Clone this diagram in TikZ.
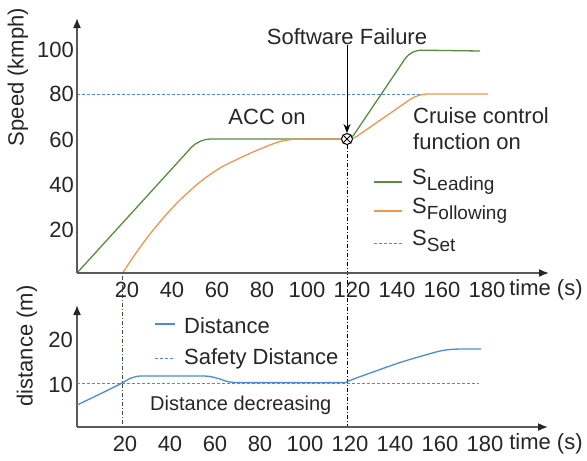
\documentclass[tikz,border=0pt]{standalone}
\usepackage{fontspec}
\setmainfont{Liberation Sans}
\usetikzlibrary{arrows.meta}
\definecolor{cgreen}{RGB}{88,140,62}
\definecolor{corange}{RGB}{236,150,80}
\definecolor{cblue}{RGB}{74,140,218}
\definecolor{caxis}{RGB}{90,90,90}
\definecolor{cmark}{RGB}{60,80,60}
\newcommand\mysub[1]{\raisebox{-6pt}{\fontsize{19}{21}\selectfont #1}}
\begin{document}
\begin{tikzpicture}[x=1pt,y=-1pt,font=\fontsize{22}{26}\selectfont,
  axis/.style={caxis,line width=1.6pt,-{Latex[length=10pt,width=8pt,color=black!85]}},
  lead/.style={cgreen,line width=1.3pt},
  foll/.style={corange,line width=1.3pt},
  dist/.style={cblue,line width=1.3pt},
  setline/.style={cblue,line width=1pt,dash pattern=on 3pt off 2pt},
  vmark/.style={line width=1pt,dash pattern=on 4pt off 2pt on 1pt off 2pt},
  lbl/.style={inner sep=0pt,text=black!85},
  tick/.style={lbl,anchor=center}]
\useasboundingbox (0,0) rectangle (587,461);
% ---------- coordinates ----------
\coordinate (O1) at (77,273);
\coordinate (Y1) at (77,18);
\coordinate (X1) at (549,273);
\coordinate (O2) at (77,427);
\coordinate (Y2) at (77,305);
\coordinate (X2) at (548,427);
\coordinate (B20) at (122,427);
\coordinate (T20) at (122,276);
\coordinate (B120) at (347,427);

% set speed
\draw[setline] (77,94) -- (420,94);
% leading
\draw[lead] (77,273) [rounded corners=11pt] -- (199,139) [rounded corners=5pt] -- (351,139) [rounded corners=10pt] -- (411,50) -- (480,51);
% following
\draw[foll] plot[smooth,tension=0.5] coordinates {(122,274) (136,253) (150,234) (165,216) (180,200) (200,182) (220,168) (240,158) (260,149) (280,141.5) (295,139.2) (310,139) (345,139)};
\draw[foll] (344,139) [rounded corners=5pt] -- (353,139) [rounded corners=9pt] -- (418,94) -- (488,94);

% vertical markers
\draw[vmark,cmark] (T20) -- (B20);
\node[draw,circle,minimum size=11pt,inner sep=0pt,line width=1pt,fill=white] (fail) at (347,139) {};
\draw[line width=0.8pt] (fail.north east) -- (fail.south west) (fail.north west) -- (fail.south east);
\draw[vmark,black] (fail.south) -- (B120);

% axes
\draw[axis] (O1) -- (Y1);
\draw[axis] (O1) -- (X1);
\draw[axis] (O2) -- (Y2);
\draw[axis] (O2) -- (X2);

% y tick labels top
\node[lbl,anchor=east] (ty100) at (74,50) {100};
\node[lbl,anchor=east] (ty80) at (74,94) {80};
\node[lbl,anchor=east] (ty60) at (74,140) {60};
\node[lbl,anchor=east] (ty40) at (74,185) {40};
\node[lbl,anchor=east] (ty20) at (74,230) {20};
\node[lbl,rotate=90] (ylab1) at (18,77) {Speed (kmph)};

% x tick labels top
\foreach \t/\n in {20/a,40/b,60/c,80/d,100/e,120/f,140/g,160/h,180/i}
  \node[tick] (tx\n) at ({77+2.25*\t+5},290) {\t};
\node[tick] (time1) at (546,290) {time (s)};

% annotations
\node[tick] (sw) at (347,37) {Software Failure};
\draw[-{Stealth[length=9pt,width=7pt]},line width=1pt] (sw.south) -- (fail.north);
\node[tick] (acc) at (267,117) {ACC on};
\node[lbl,anchor=north west,align=left] (cruise) at (413,107) {Cruise control\\function on};

% legend top
\draw[lead] (374,182) -- (402,182);
\node[lbl,anchor=west] (lgl) at (412,182) {S\mysub{Leading}};
\draw[foll] (374,211) -- (402,211);
\node[lbl,anchor=west] (lgf) at (412,211) {S\mysub{Following}};
\draw[setline] (374,243) -- (402,243);
\node[lbl,anchor=west] (lgs) at (412,241) {S\mysub{Set}};

% ---------- bottom chart ----------
\draw[setline] (77,383) -- (479,383);
\draw[dist] plot[smooth,tension=0.4] coordinates {(77,405) (100,394) (122,383) (130,378.5) (137,376.4) (145,376) (200,376) (210,376.5) (220,379) (228,381.7) (237,382.6) (250,382.6) (340,382.6) (347,381.6) (355,378.5) (380,369.5) (400,362.5) (420,356.5) (440,351) (452,349.3) (465,349) (481,349)};

\node[lbl,anchor=east] (by20) at (73,340) {20};
\node[lbl,anchor=east] (by10) at (73,385) {10};
\node[lbl,rotate=90] (ylab2) at (27,346) {distance (m)};

\foreach \t/\n in {20/a,40/b,60/c,80/d,100/e,120/f,140/g,160/h,180/i}
  \node[tick] (bx\n) at ({77+2.25*\t+3},444) {\t};
\node[tick] (time2) at (546,444) {time (s)};

\draw[dist] (155,324) -- (175,324);
\node[lbl,anchor=west] (lgd) at (184,326) {Distance};
\draw[setline] (155,358) -- (175,358);
\node[lbl,anchor=west] (lgsd) at (184,359) {Safety Distance};
\node[lbl,anchor=west,font=\fontsize{20}{24}\selectfont] (dd) at (150,405) {Distance decreasing};
\end{tikzpicture}
\end{document}
